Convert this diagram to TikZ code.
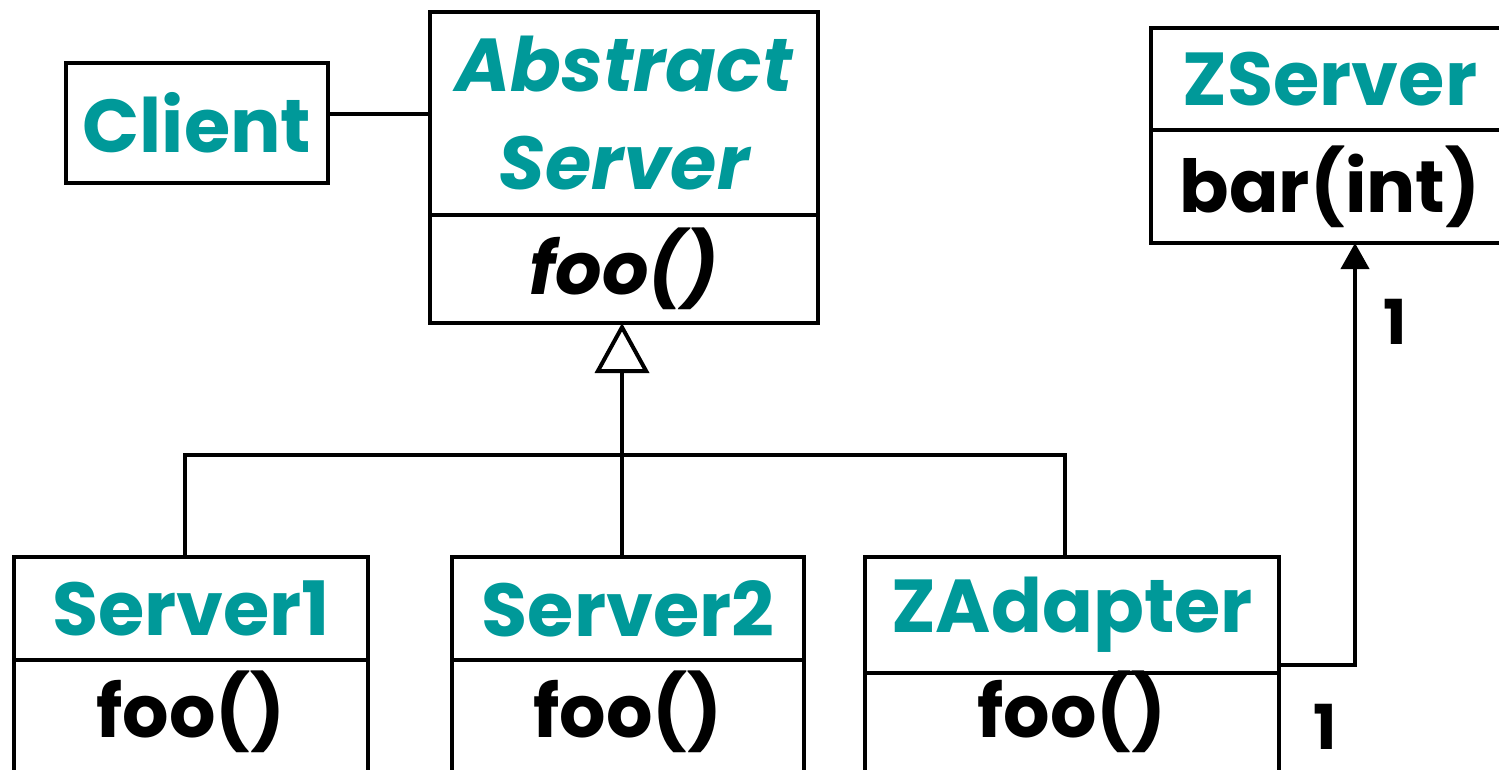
\documentclass[tikz,border=0pt]{standalone}
\usepackage{fontspec}
\setmainfont{Poppins}
\usetikzlibrary{arrows.meta}
\definecolor{cteal}{RGB}{0,153,153}
\tikzset{
  box/.style={draw, line width=4pt, inner sep=0pt, outer sep=0pt, align=center},
  cname/.style={text=cteal, font=\fontsize{75}{96}\selectfont\bfseries},
  mname/.style={text=black, font=\fontsize{73}{96}\selectfont\bfseries},
  edge/.style={line width=4pt},
  mult/.style={font=\fontsize{62}{70}\selectfont\bfseries}
}
\begin{document}
\begin{tikzpicture}[x=1pt,y=-1pt]
\useasboundingbox (0,0) rectangle (1499,769);
\clip (0,0) rectangle (1499,769);
% Client
\node[box, cname, minimum width=262pt, minimum height=120pt] (client) at (197,123) {Client};
% Abstract Server
\node[box, cname, font=\fontsize{75}{98}\selectfont\bfseries\itshape, minimum width=388pt, minimum height=203pt] (abstop) at (624,113.5) {Abstract\\Server};
\node[box, mname, font=\fontsize{73}{96}\selectfont\bfseries\itshape, minimum width=388pt, minimum height=108pt] (absbot) at (624,269) {foo()};
% ZServer
\node[box, cname, minimum width=358pt, minimum height=102pt] (zstop) at (1330,79) {ZServer};
\node[box, mname, minimum width=358pt, minimum height=113pt] (zsbot) at (1330,186.5) {bar(int)};
% Server1
\node[box, cname, minimum width=354pt, minimum height=103pt] (s1top) at (191,608.5) {Server1};
\draw[edge] (s1top.south west) -- ++(0,140) (s1top.south east) -- ++(0,140);
\node[mname] (s1bot) at (191,712) {foo()};
% Server2
\node[box, cname, minimum width=352pt, minimum height=103pt] (s2top) at (628,608.5) {Server2};
\draw[edge] (s2top.south west) -- ++(0,140) (s2top.south east) -- ++(0,140);
\node[mname] (s2bot) at (628,712) {foo()};
% ZAdapter
\node[box, cname, minimum width=414pt, minimum height=116pt] (zatop) at (1072,615) {ZAdapter};
\draw[edge] (zatop.south west) -- ++(0,140) (zatop.south east) -- ++(0,140);
\node[mname] (zabot) at (1072,712) {foo()};
% connectors
\draw[edge] ([yshift=9pt]client.east) -- ([yshift=9pt]client.east -| abstop.west);
\coordinate (bar) at (622,455);
\draw[edge, -{Triangle[open, length=50pt, width=54pt]}] (s2top.north -| bar) -- (absbot.south -| bar);
\draw[edge] (s1top.north -| 185,0) -- (185,455) -- (1065,455) -- (zatop.north -| 1065,0);
\coordinate (zsin) at (1355,243);
\coordinate (zaout) at (1279,665);
\draw[edge, -{Triangle[length=26pt, width=28pt]}] (zaout) -| (zsin);
\node[mult] (m1) at (1395,322) {1};
\node[mult] (m2) at (1325,727) {1};
\end{tikzpicture}
\end{document}
